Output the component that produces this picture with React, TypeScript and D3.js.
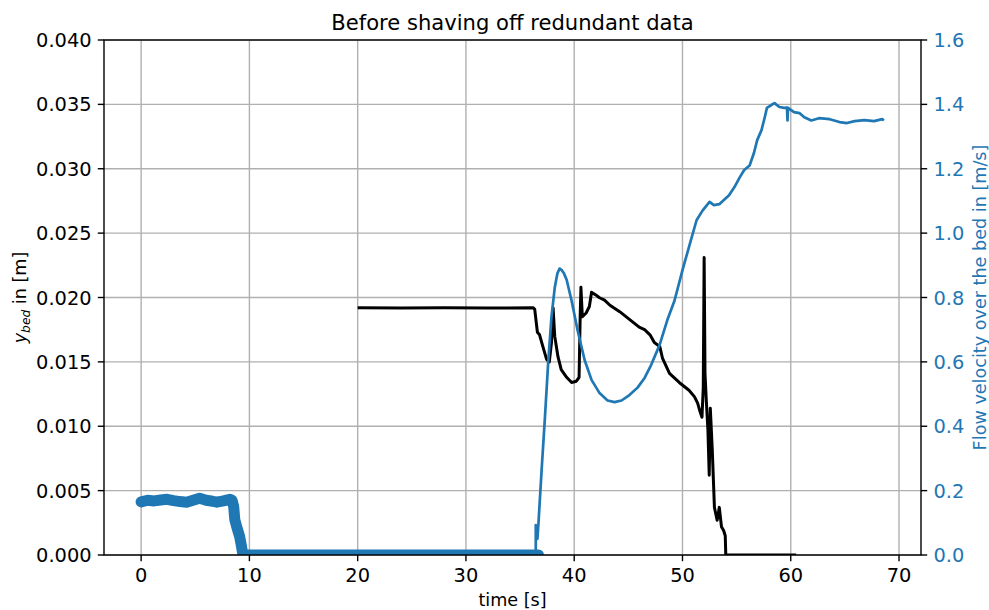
import React from "react";
import * as d3 from "d3";

// Bed level y_bed [m] over time [s]
const bedTime = [20, 24, 28, 32, 36.2, 36.35, 36.6, 36.8, 37.1, 37.45, 37.7, 37.9, 38.05, 38.2, 38.5, 38.8, 39.3, 39.76, 40.2, 40.45, 40.55, 40.62, 40.75, 41.1, 41.4, 41.6, 42.0, 42.3, 42.8, 43.3, 44.2, 45.1, 46.0, 46.5, 47.0, 47.4, 47.9, 48.15, 48.8, 49.7, 50.6, 51.1, 51.4, 51.6, 51.8, 51.92, 52.0, 52.08, 52.2, 52.35, 52.47, 52.57, 52.75, 52.95, 53.2, 53.4, 53.6, 53.8, 53.95, 54.0, 60.5];
const bedLevel = [0.0192, 0.01918, 0.0192, 0.01918, 0.0192, 0.0191, 0.0173, 0.0171, 0.0162, 0.0152, 0.015, 0.0165, 0.0192, 0.017, 0.0154, 0.0144, 0.0138, 0.0134, 0.0135, 0.0138, 0.0185, 0.0208, 0.0185, 0.0188, 0.0193, 0.0204, 0.0202, 0.02, 0.0198, 0.0194, 0.0189, 0.0183, 0.0177, 0.0175, 0.0171, 0.0165, 0.0162, 0.0153, 0.0141, 0.0134, 0.0128, 0.0123, 0.0118, 0.0112, 0.0107, 0.013, 0.0231, 0.0141, 0.012, 0.0097, 0.0062, 0.0114, 0.0082, 0.0037, 0.0027, 0.0037, 0.0022, 0.0019, 0.0015, 0, 0];

// Flow velocity [m/s], dense sampled start (drawn with markers)
const flowDenseTime = [0, 0.6, 1.2, 1.8, 2.4, 3.0, 3.6, 4.2, 4.8, 5.4, 6.0, 6.6, 7.0, 7.6, 8.2, 8.4, 8.55, 8.65, 8.85, 9.1, 9.25, 9.4, 36.7];
const flowDenseVel = [0.165, 0.17, 0.168, 0.171, 0.173, 0.169, 0.166, 0.164, 0.17, 0.176, 0.17, 0.167, 0.164, 0.168, 0.173, 0.17, 0.15, 0.11, 0.085, 0.057, 0.03, 0, 0];

// Flow velocity [m/s], remaining record
const flowTime = [36.45, 36.45, 36.6, 36.7, 37.0, 37.3, 37.6, 37.9, 38.2, 38.45, 38.65, 38.85, 39.05, 39.3, 39.76, 40.3, 40.96, 41.6, 42.34, 43.08, 43.73, 44.37, 45.1, 45.85, 46.5, 47.1, 47.88, 48.6, 49.26, 50.0, 50.65, 51.3, 51.85, 52.5, 52.9, 53.4, 54.3, 54.8, 55.3, 55.7, 56.2, 56.6, 56.9, 57.3, 57.6, 57.8, 58.2, 58.5, 58.95, 59.4, 59.65, 59.7, 59.75, 60.3, 60.8, 61.25, 61.9, 62.6, 63.6, 64.5, 65.2, 65.9, 66.8, 67.7, 68.45, 68.6];
const flowVel = [0, 0.093, 0.05, 0.1, 0.27, 0.43, 0.6, 0.74, 0.83, 0.875, 0.89, 0.885, 0.875, 0.855, 0.79, 0.7, 0.606, 0.544, 0.503, 0.48, 0.475, 0.48, 0.497, 0.52, 0.55, 0.59, 0.652, 0.73, 0.79, 0.885, 0.963, 1.04, 1.07, 1.097, 1.087, 1.09, 1.118, 1.143, 1.174, 1.196, 1.21, 1.249, 1.289, 1.32, 1.36, 1.389, 1.398, 1.404, 1.392, 1.389, 1.39, 1.35, 1.389, 1.376, 1.373, 1.36, 1.35, 1.357, 1.354, 1.345, 1.342, 1.348, 1.351, 1.348, 1.354, 1.35];

const xTicks = [0, 10, 20, 30, 40, 50, 60, 70];
const leftTicks = [0, 0.005, 0.01, 0.015, 0.02, 0.025, 0.03, 0.035, 0.04];
const rightTicks = [0, 0.2, 0.4, 0.6, 0.8, 1.0, 1.2, 1.4, 1.6];

const W = 989;
const H = 610;
const L = 104, R = 921, T = 40, B = 555;
const BLUE = "#1f77b4";
const FONT = "'DejaVu Sans', sans-serif";

export default function App() {
  const x = d3.scaleLinear().domain([-3.43, 72.03]).range([L, R]);
  const yL = d3.scaleLinear().domain([0, 0.04]).range([B, T]);
  const yR = d3.scaleLinear().domain([0, 1.6]).range([B, T]);

  const bedLine = d3.line<number>().x((d) => x(bedTime[d])).y((d) => yL(bedLevel[d]));
  const denseLine = d3.line<number>().x((d) => x(flowDenseTime[d])).y((d) => yR(flowDenseVel[d]));
  const flowLine = d3.line<number>().x((d) => x(flowTime[d])).y((d) => yR(flowVel[d]));

  const tickLen = 6.2;
  const pad = 6.2;

  return (
    <svg width={W} height={H} style={{ position: "absolute", left: 0, top: 0, background: "#fff" }} fontFamily={FONT}>
      <defs>
        <clipPath id="plotArea">
          <rect x={L} y={T} width={R - L} height={B - T} />
        </clipPath>
      </defs>
      <rect x={0} y={0} width={W} height={H} fill="#fff" />

      {/* grid */}
      <g stroke="#b0b0b0" strokeWidth={1.4}>
        {xTicks.map((t) => (
          <line key={"gx" + t} x1={x(t)} x2={x(t)} y1={T} y2={B} />
        ))}
        {leftTicks.map((t) => (
          <line key={"gy" + t} x1={L} x2={R} y1={yL(t)} y2={yL(t)} />
        ))}
      </g>

      <g clipPath="url(#plotArea)" fill="none" strokeLinejoin="round">
        <path d={bedLine(d3.range(bedTime.length)) || ""} stroke="#000" strokeWidth={3} />
        <path d={denseLine(d3.range(flowDenseTime.length)) || ""} stroke={BLUE} strokeWidth={11} strokeLinecap="round" />
        <path d={flowLine(d3.range(flowTime.length)) || ""} stroke={BLUE} strokeWidth={2.7} />
      </g>

      {/* frame */}
      <rect x={L} y={T} width={R - L} height={B - T} fill="none" stroke="#000" strokeWidth={1.4} />

      {/* x axis */}
      <g fontSize={19.4} fill="#000">
        {xTicks.map((t) => (
          <g key={"xt" + t}>
            <line x1={x(t)} x2={x(t)} y1={B} y2={B + tickLen} stroke="#000" strokeWidth={1.4} />
            <text x={x(t)} y={B + tickLen + pad + 14.5} textAnchor="middle">{t}</text>
          </g>
        ))}
      </g>
      <text x={(L + R) / 2} y={606} textAnchor="middle" fontSize={17.6}>time [s]</text>

      {/* left axis */}
      <g fontSize={19.4} fill="#000">
        {leftTicks.map((t) => (
          <g key={"yl" + t}>
            <line x1={L - tickLen} x2={L} y1={yL(t)} y2={yL(t)} stroke="#000" strokeWidth={1.4} />
            <text x={L - tickLen - pad} y={yL(t) + 7} textAnchor="end">{t.toFixed(3)}</text>
          </g>
        ))}
      </g>
      <text transform={`translate(26, ${(T + B) / 2}) rotate(-90)`} textAnchor="middle" fontSize={17.6}>
        <tspan fontStyle="italic">y</tspan>
        <tspan fontStyle="italic" fontSize={12.3} dy={3.5}>bed</tspan>
        <tspan dy={-3.5}> in [m]</tspan>
      </text>

      {/* right axis */}
      <g fontSize={19.4} fill={BLUE}>
        {rightTicks.map((t) => (
          <g key={"yr" + t}>
            <line x1={R} x2={R + tickLen} y1={yR(t)} y2={yR(t)} stroke="#000" strokeWidth={1.4} />
            <text x={R + tickLen + pad} y={yR(t) + 7} textAnchor="start">{t.toFixed(1)}</text>
          </g>
        ))}
      </g>
      <text transform={`translate(986, ${(T + B) / 2}) rotate(-90)`} textAnchor="middle" fontSize={17.6} fill={BLUE}>
        Flow velocity over the bed in [m/s]
      </text>

      {/* title */}
      <text x={(L + R) / 2} y={30} textAnchor="middle" fontSize={21.1}>Before shaving off redundant data</text>
    </svg>
  );
}
